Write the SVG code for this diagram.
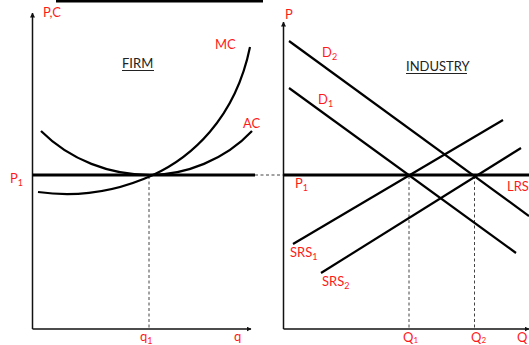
<svg xmlns="http://www.w3.org/2000/svg" width="529" height="345" viewBox="0 0 529 345">
<style>
text{font-family:Lato,"Liberation Sans",Arial,sans-serif;font-size:13px}
.r{fill:#ff1a1a}
.k{fill:#222}
.sub{font-size:9px}
.sub2{font-size:8px}
.axis{stroke:#111;stroke-width:1.5;fill:none}
.curve{stroke:#000;stroke-width:2.2;fill:none}
.thick{stroke:#000;stroke-width:3.2;fill:none}
.dash{stroke:#444;stroke-width:1;stroke-dasharray:3,2.5;fill:none}
</style>
<defs>
<marker id="arr" viewBox="0 0 10 10" refX="9" refY="5" markerWidth="5" markerHeight="5" orient="auto" markerUnits="userSpaceOnUse">
<path d="M0,0 L10,5 L0,10 z" fill="#111"/>
</marker>
</defs>
<rect x="56" y="0" width="207" height="2.5" fill="#000"/>
<g id="connectors">
<path class="axis" d="M32.5,329 V13" marker-end="url(#arr)"/>
<path class="axis" d="M32.5,329 H251" marker-end="url(#arr)"/>
<path class="axis" d="M283.5,329 V22" marker-end="url(#arr)"/>
<path class="axis" d="M283.5,329 H529" marker-end="url(#arr)"/>
<path class="dash" d="M149,176 V329"/>
<path class="dash" d="M409,176 V329"/>
<path class="dash" d="M474.5,176 V329"/>
<path class="dash" d="M255,175 H283"/>
</g>
<g id="firm">
<g id="firm-p1-line"><path class="thick" d="M32.5,175 H255"/></g>
<g id="mc"><path class="curve" d="M38,192 C80,198 120,190 153,175 C190,158 235,120 250,47"/></g>
<g id="ac"><path class="curve" d="M41,131 C70,160 110,175 150,175 C185,175 225,160 252,131"/></g>
<text class="r" x="43" y="17">P,C</text>
<text class="k" x="122" y="68">FIRM</text>
<path d="M122,70.5 H154" stroke="#222" stroke-width="1"/>
<text class="r" x="215" y="49">MC</text>
<text class="r" x="243" y="128">AC</text>
<text class="r" x="10" y="183">P<tspan class="sub" dy="3">1</tspan></text>
<text class="r" x="140" y="341">q<tspan class="sub" dy="2.5">1</tspan></text>
<text class="r" x="234" y="341">q</text>
</g>
<g id="industry">
<g id="lrs"><path class="thick" d="M283.5,175 H529"/></g>
<g id="d2"><path class="curve" d="M289,41 L529,216"/></g>
<g id="d1"><path class="curve" d="M289,88 L516,253"/></g>
<g id="srs1"><path class="curve" d="M293,244 L503,120"/></g>
<g id="srs2"><path class="curve" d="M321,273 L521,148"/></g>
<text class="r" x="285" y="19">P</text>
<text class="r" x="322" y="57">D<tspan class="sub" dy="3">2</tspan></text>
<text class="r" x="318" y="104">D<tspan class="sub" dy="3">1</tspan></text>
<text class="k" x="406" y="71">INDUSTRY</text>
<path d="M406,73.5 H467" stroke="#222" stroke-width="1"/>
<text class="r" x="295" y="188">P<tspan class="sub" dy="3">1</tspan></text>
<text class="r" x="507" y="191">LRS</text>
<text class="r" x="290" y="257">SRS<tspan class="sub" dy="3">1</tspan></text>
<text class="r" x="322" y="286">SRS<tspan class="sub" dy="3">2</tspan></text>
<text class="r" x="403" y="341.5">Q<tspan class="sub2" dy="1.5">1</tspan></text>
<text class="r" x="471" y="341.5">Q<tspan class="sub2" dy="1.5">2</tspan></text>
<text class="r" x="517" y="341.5">Q</text>
</g>
</svg>
